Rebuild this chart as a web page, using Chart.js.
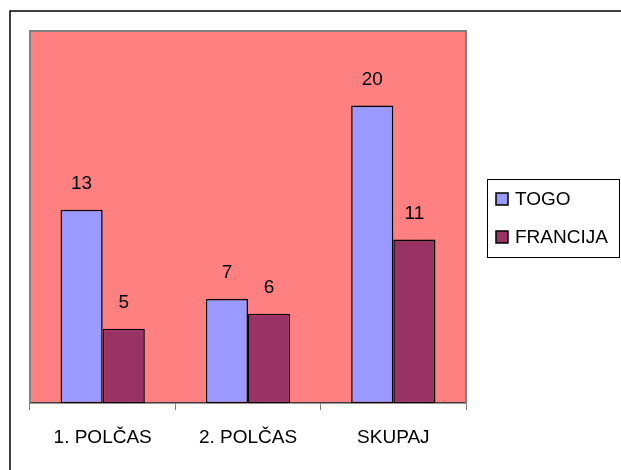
<!DOCTYPE html>
<html>
<head>
<meta charset="utf-8">
<script src="https://cdn.jsdelivr.net/npm/chart.js@4.4.1/dist/chart.umd.min.js"></script>
<style>
  html, body { margin: 0; padding: 0; background: #fff; }
  #wrap { width: 621px; height: 470px; position: relative; }
</style>
</head>
<body>
<div id="wrap"><canvas id="chart" width="621" height="470"></canvas></div>
<script>
// DATA
const categories = ['1. POLČAS', '2. POLČAS', 'SKUPAJ'];
const togoValues = [13, 7, 20];
const francijaValues = [5, 6, 11];
const seriesNames = ['TOGO', 'FRANCIJA'];
const yMax = 25;

const FONT = 'Liberation Sans, Arial, sans-serif';

// frame, plot background, value labels and legend
const decorPlugin = {
    id: 'decor',
    beforeDraw(chart) {
        const ctx = chart.ctx;
        const a = chart.chartArea;
        ctx.save();
        ctx.fillStyle = '#FF8080';
        ctx.fillRect(a.left, a.top, a.right - a.left, a.bottom - a.top);
        ctx.restore();
    },
    afterDatasetsDraw(chart) {
        const ctx = chart.ctx;
        const a = chart.chartArea;
        ctx.save();
        // plot border
        ctx.strokeStyle = '#808080';
        ctx.lineWidth = 2;
        ctx.beginPath();
        ctx.moveTo(a.left, a.bottom);
        ctx.lineTo(a.left, a.top);
        ctx.lineTo(a.right, a.top);
        ctx.lineTo(a.right, a.bottom);
        ctx.stroke();

        // value labels
        ctx.fillStyle = '#000';
        ctx.font = '19px ' + FONT;
        ctx.textAlign = 'center';
        ctx.textBaseline = 'middle';
        chart.data.datasets.forEach((ds, i) => {
            chart.getDatasetMeta(i).data.forEach((bar, j) => {
                ctx.fillText(String(ds.data[j]), bar.x, bar.y - 26);
            });
        });

        // outer frame
        ctx.strokeStyle = '#000';
        ctx.lineWidth = 1.5;
        ctx.beginPath();
        ctx.moveTo(10, 475);
        ctx.lineTo(10, 11);
        ctx.lineTo(625, 11);
        ctx.stroke();

        // legend
        ctx.strokeStyle = '#000';
        ctx.lineWidth = 1;
        ctx.strokeRect(487.5, 179.5, 132, 78);
        ctx.textAlign = 'left';
        const ys = [199, 237];
        chart.data.datasets.forEach((ds, i) => {
            ctx.fillStyle = ds.backgroundColor;
            ctx.fillRect(496, ys[i] - 6, 12, 12);
            ctx.lineWidth = 1.5;
            ctx.strokeRect(496, ys[i] - 6, 12, 12);
            ctx.fillStyle = '#000';
            ctx.fillText(ds.label, 515, ys[i] + 1);
        });
        ctx.restore();
    }
};

new Chart(document.getElementById('chart'), {
    type: 'bar',
    data: {
        labels: categories,
        datasets: [
            { label: seriesNames[0], data: togoValues, backgroundColor: '#9999FF', borderColor: '#000', borderWidth: 1.5, borderSkipped: false },
            { label: seriesNames[1], data: francijaValues, backgroundColor: '#993366', borderColor: '#000', borderWidth: 1.5, borderSkipped: false }
        ]
    },
    options: {
        responsive: false,
        animation: false,
        layout: { padding: { left: 30, top: 31, right: 155, bottom: 5 } },
        datasets: { bar: { categoryPercentage: 0.58, barPercentage: 1 } },
        scales: {
            x: {
                grid: { drawOnChartArea: false, color: '#808080', tickLength: 7, offset: true },
                border: { color: '#404040', width: 1.5 },
                ticks: { color: '#000', font: { family: FONT, size: 19 }, padding: 16 }
            },
            y: {
                display: false,
                min: 0,
                max: yMax
            }
        },
        plugins: {
            legend: { display: false },
            tooltip: { enabled: false }
        }
    },
    plugins: [decorPlugin]
});
</script>
</body>
</html>
